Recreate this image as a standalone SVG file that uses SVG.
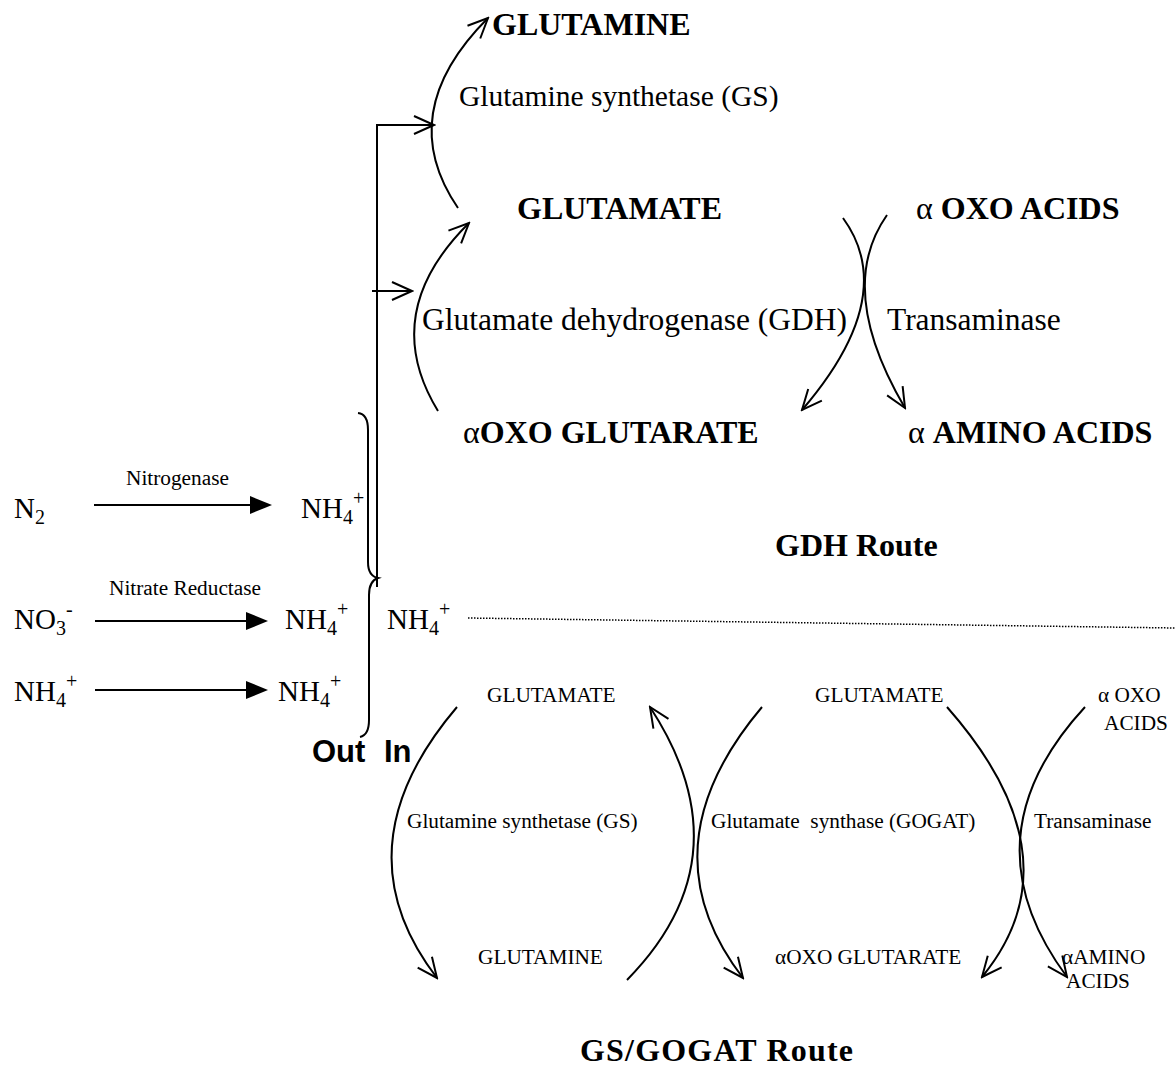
<svg xmlns="http://www.w3.org/2000/svg" width="1175" height="1066" viewBox="0 0 1175 1066">
<style>
.t{font-family:"Liberation Serif","Times New Roman",serif;fill:#000}
.b{font-weight:bold;font-size:32px}
.r{font-size:29.5px}
.r2{font-size:31.5px}
.s{font-size:21.3px}
.m{font-size:29px}
.a{font-family:"Liberation Sans",Arial,sans-serif;font-weight:bold;font-size:31px;fill:#000}
.ln{fill:none;stroke:#000;stroke-width:2}
.arc{fill:none;stroke:#000;stroke-width:2;marker-end:url(#open)}
</style>
<defs>
<marker id="open" viewBox="0 0 24 24" refX="22" refY="12" markerWidth="24" markerHeight="24" markerUnits="userSpaceOnUse" orient="auto">
<path d="M2,3 L22,12 L2,21" fill="none" stroke="#000" stroke-width="2"/>
</marker>
</defs>
<rect width="1175" height="1066" fill="#fff"/>

<g id="connectors">
<line class="ln" x1="94" y1="505" x2="252" y2="505"/>
<polygon points="250,496 272,505 250,514" fill="#000"/>
<line class="ln" x1="95" y1="621" x2="248" y2="621"/>
<polygon points="246,612 268,621 246,630" fill="#000"/>
<line class="ln" x1="95" y1="690" x2="248" y2="690"/>
<polygon points="246,681 268,690 246,699" fill="#000"/>
<path class="ln" d="M358,413 Q368,414 368,430 L368,562 Q368,576 378,578 Q369,581 369,595 L369,720 Q369,735 360,737"/>
<path class="ln" d="M377,587 L377,125 L434,125" marker-end="url(#open)"/>
<line class="ln" x1="372" y1="291" x2="412" y2="291" marker-end="url(#open)"/>
<path class="arc" d="M458,208 Q393,113 488,18"/>
<path class="arc" d="M438,411 Q378,313 469,223"/>
<path class="arc" d="M843,218 Q900,296 802,410"/>
<path class="arc" d="M887,215 Q835,289 905,408"/>
<line x1="468" y1="618" x2="1175" y2="628" stroke="#000" stroke-width="1.5" stroke-dasharray="1.5,1.5"/>
<path class="arc" d="M457,707 Q337,848 437,978"/>
<path class="arc" d="M627,980 Q748,857 650,707"/>
<path class="arc" d="M762,707 Q643,848 743,978"/>
<path class="arc" d="M947,707 Q1080,858 982,977"/>
<path class="arc" d="M1085,707 Q964,838 1067,977"/>
</g>

<g id="gdh-route">
<text class="t b" x="492" y="35">GLUTAMINE</text>
<text class="t r" x="459" y="106">Glutamine synthetase (GS)</text>
<text class="t b" x="517" y="219">GLUTAMATE</text>
<text class="t b" x="916" y="219"><tspan font-weight="normal">α</tspan> OXO ACIDS</text>
<text class="t r2" x="422" y="330">Glutamate dehydrogenase (GDH)</text>
<text class="t r2" x="887" y="330">Transaminase</text>
<text class="t b" x="463" y="443"><tspan font-weight="normal">α</tspan>OXO GLUTARATE</text>
<text class="t b" x="908" y="443"><tspan font-weight="normal">α</tspan> AMINO ACIDS</text>
<text class="t b" x="775" y="556">GDH Route</text>
</g>

<g id="sources">
<text class="t m" x="14" y="518">N<tspan font-size="20" dy="6">2</tspan></text>
<text class="t s" x="126" y="485">Nitrogenase</text>
<text class="t m" x="301" y="518">NH<tspan font-size="20" dy="6">4</tspan><tspan font-size="20" dy="-19">+</tspan></text>
<text class="t s" x="109" y="595">Nitrate Reductase</text>
<text class="t m" x="14" y="629">NO<tspan font-size="20" dy="6">3</tspan><tspan font-size="20" dy="-19">-</tspan></text>
<text class="t m" x="285" y="629">NH<tspan font-size="20" dy="6">4</tspan><tspan font-size="20" dy="-19">+</tspan></text>
<text class="t m" x="387" y="629">NH<tspan font-size="20" dy="6">4</tspan><tspan font-size="20" dy="-19">+</tspan></text>
<text class="t m" x="14" y="701">NH<tspan font-size="20" dy="6">4</tspan><tspan font-size="20" dy="-19">+</tspan></text>
<text class="t m" x="278" y="701">NH<tspan font-size="20" dy="6">4</tspan><tspan font-size="20" dy="-19">+</tspan></text>
<text class="a" x="312" y="762">Out <tspan x="384">In</tspan></text>
</g>

<g id="gs-gogat-route">
<text class="t s" x="487" y="702">GLUTAMATE</text>
<text class="t s" x="815" y="702">GLUTAMATE</text>
<text class="t s" x="1098" y="702">α OXO</text>
<text class="t s" x="1104" y="730">ACIDS</text>
<text class="t s" x="407" y="828">Glutamine synthetase (GS)</text>
<text class="t s" x="711" y="828" xml:space="preserve">Glutamate  synthase (GOGAT)</text>
<text class="t s" x="1034" y="828">Transaminase</text>
<text class="t s" x="478" y="964">GLUTAMINE</text>
<text class="t s" x="775" y="964">αOXO GLUTARATE</text>
<text class="t s" x="1062" y="964">αAMINO</text>
<text class="t s" x="1066" y="988">ACIDS</text>
<text class="t b" x="580" y="1061" font-size="34" textLength="273" lengthAdjust="spacing">GS/GOGAT Route</text>
</g>
</svg>
